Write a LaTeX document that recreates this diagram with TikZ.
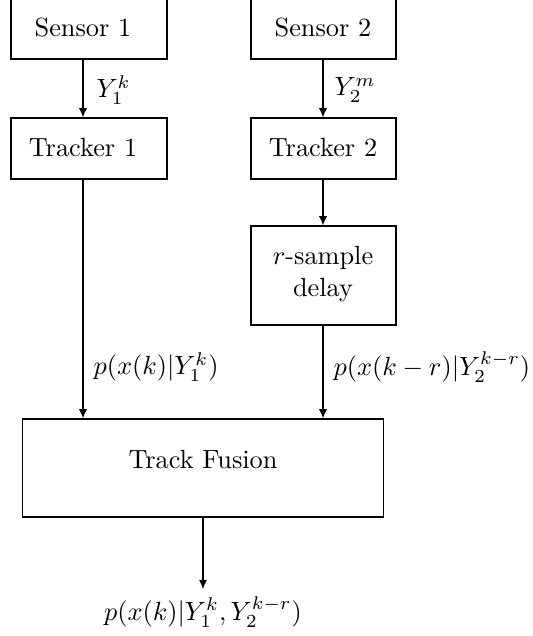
\documentclass[tikz,border=0pt]{standalone}
\usetikzlibrary{arrows.meta}
\newcommand\pxunit{0.38pt}
\begin{document}
\begin{tikzpicture}[x=\pxunit,y=-\pxunit,
  box/.style={draw, line width=0.45pt, inner sep=0pt, rectangle},
  conn/.style={line width=0.45pt, -{Latex[length=3.5pt,width=3.1pt]}},
  lbl/.style={inner sep=0pt, anchor=west},
  txt/.style={inner sep=0pt}]
\useasboundingbox (0,0) rectangle (532,636);
% boxes
\node[box, minimum width=156*\pxunit, minimum height=61*\pxunit] (s1) at (89,28.5) {};
\node[box, minimum width=145*\pxunit, minimum height=61*\pxunit] (s2) at (323.5,28.5) {};
\node[box, minimum width=156*\pxunit, minimum height=61*\pxunit] (t1) at (89,148.5) {};
\node[box, minimum width=145*\pxunit, minimum height=61*\pxunit] (t2) at (323.5,148.5) {};
\node[box, minimum width=145*\pxunit, minimum height=99*\pxunit] (dl) at (323.5,275.5) {};
\node[box, minimum width=361*\pxunit, minimum height=98*\pxunit] (fu) at (203,468) {};
% texts
\node[txt] (s1t) at (83,28) {Sensor 1};
\node[txt] (s2t) at (323,28) {Sensor 2};
\node[txt] (t1t) at (83,148) {Tracker 1};
\node[txt] (t2t) at (323,148) {Tracker 2};
\node[txt, align=center] (dlt) at (323,274) {$r$-sample\\delay};
\node[txt] (fut) at (203,460) {Track Fusion};
% connectors
\draw[conn] (s1.south -| s1t) -- (t1.north -| s1t);
\draw[conn] (s2.south -| s2t) -- (t2.north -| s2t);
\draw[conn] (t2.south -| t2t) -- (dl.north -| t2t);
\draw[conn] (t1.south -| t1t) -- (fu.north -| t1t);
\draw[conn] (dl.south -| dlt) -- (fu.north -| dlt);
\coordinate (outend) at (203,589);
\draw[conn] (fu.south) -- (outend);
% labels
\node[lbl] (l1) at (96,90) {$Y_1^k$};
\node[lbl] (l2) at (334,90) {$Y_2^m$};
\node[lbl] (l3) at (93,367) {$p(x(k)|Y_1^k)$};
\node[lbl] (l4) at (333,367) {$p(x(k-r)|Y_2^{k-r})$};
\node[inner sep=0pt] (l5) at (203,612) {$p(x(k)|Y_1^k,Y_2^{k-r})$};
\end{tikzpicture}
\end{document}
